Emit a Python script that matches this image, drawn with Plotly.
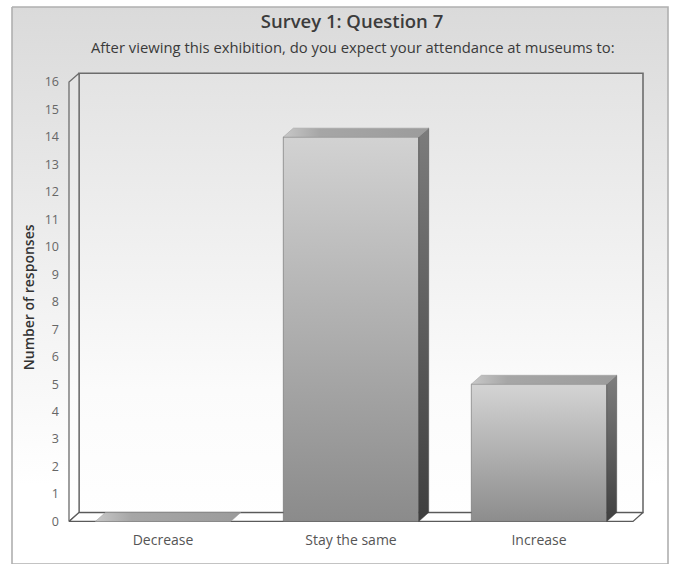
import plotly.graph_objects as go

# ---- data ----
categories = ["Decrease", "Stay the same", "Increase"]
responses = [0, 14, 5]
y_ticks = list(range(0, 17))
title_text = "Survey 1: Question 7"
subtitle_text = "After viewing this exhibition, do you expect your attendance at museums to:"
y_title = "Number of responses"

# ---- styling / geometry ----
W, H = 678, 570
PX_X, PX_Y = 188.0, 27.75      # pixels per category / per response unit
DX, DY = 10.0 / PX_X, 9.0 / PX_Y  # 3-D depth in data units
BW = 0.72                      # bar width (category units)
PADX, PADY = 2.0 / PX_X, 2.0 / PX_Y
YMAX = 16
FONT = "Open Sans"

x_lo, x_hi = -0.5, len(categories) - 0.5
xr = [x_lo - PADX, x_hi + DX + PADX]
yr = [0 - PADY, YMAX + DY + PADY]
plot_left = 69 - 2
plot_right = plot_left + (xr[1] - xr[0]) * PX_X
plot_bottom = 527 + 2
plot_top = plot_bottom - (yr[1] - yr[0]) * PX_Y

fig = go.Figure()

# background (full-page) gradient on helper axes x/y
fig.add_trace(go.Scatter(
    x=[12, 668, 668, 12, 12], y=[7, 7, 570, 570, 7], xaxis="x", yaxis="y",
    mode="lines", fill="toself", line=dict(color="#b0b0b0", width=1.6),
    fillgradient=dict(type="vertical", start=7, stop=570,
                      colorscale=[[0, "#dadada"], [0.55, "#f3f3f3"], [0.85, "#ffffff"], [1, "#ffffff"]]),
    hoverinfo="skip", showlegend=False))

def poly(xs, ys, line_color, line_width, fg=None, fillcolor=None):
    d = dict(x=xs + [xs[0]], y=ys + [ys[0]], xaxis="x2", yaxis="y2",
             mode="lines", fill="toself",
             line=dict(color=line_color, width=line_width),
             hoverinfo="skip", showlegend=False)
    if fg is not None:
        d["fillgradient"] = fg
    if fillcolor is not None:
        d["fillcolor"] = fillcolor
    fig.add_trace(go.Scatter(**d))

wall_grad = dict(type="vertical", start=0, stop=YMAX + DY,
                 colorscale=[[0, "#ffffff"], [0.3, "#fbfbfb"], [1, "#e3e3e3"]])

# back wall
poly([x_lo + DX, x_hi + DX, x_hi + DX, x_lo + DX],
     [DY, DY, YMAX + DY, YMAX + DY], "#6c6c6c", 1.6, fg=wall_grad)
# left wall
poly([x_lo, x_lo + DX, x_lo + DX, x_lo],
     [0, DY, YMAX + DY, YMAX], "#6c6c6c", 1.3, fg=wall_grad)
# floor
poly([x_lo, x_hi, x_hi + DX, x_lo + DX],
     [0, 0, DY, DY], "#5a5a5a", 1.3, fillcolor="#ffffff")

# bars (front faces)
fig.add_trace(go.Bar(x=list(range(len(categories))), y=responses, width=BW,
                     xaxis="x2", yaxis="y2", marker=dict(color="#aaaaaa", line=dict(width=0)),
                     showlegend=False, hovertemplate="%{y}<extra></extra>"))

for i, v in enumerate(responses):
    l, r = i - BW / 2, i + BW / 2
    if v > 0:
        # front face gradient
        poly([l, r, r, l], [0, 0, v, v], "#6a6a6a", 0.6,
             fg=dict(type="vertical", start=0, stop=v,
                     colorscale=[[0, "#8a8a8a"], [1, "#d2d2d2"]]))
        # side face
        poly([r, r + DX, r + DX, r], [0, DY, v + DY, v], "#444444", 0.5,
             fg=dict(type="vertical", start=0, stop=v + DY,
                     colorscale=[[0, "#3e3e3e"], [1, "#7c7c7c"]]))
    # top face
    poly([l, r, r + DX, l + DX], [v, v, v + DY, v + DY], "#9a9a9a", 0.5,
         fg=dict(type="horizontal", start=l, stop=r + DX,
                 colorscale=[[0, "#c8c8c8"], [0.25, "#a6a6a6"], [1, "#9c9c9c"]]))

fig.update_layout(
    width=W, height=H,
    margin=dict(l=0, r=0, t=0, b=0),
    paper_bgcolor="#ffffff", plot_bgcolor="rgba(0,0,0,0)",
    font=dict(family=FONT, color="#555555", size=12),
    title=dict(text=title_text, x=352 / W, xanchor="center",
               y=1 - 22 / H, yanchor="middle",
               font=dict(family=FONT, size=18.5, color="#3c3c3c", weight=600)),
    annotations=[dict(text=subtitle_text, xref="paper", yref="paper",
                      x=353 / W, y=1 - 47 / H, xanchor="center", yanchor="middle",
                      showarrow=False, font=dict(family=FONT, size=14.8, color="#3a3a3a"))],
    xaxis=dict(domain=[0, 1], range=[0, W], visible=False, fixedrange=True),
    yaxis=dict(domain=[0, 1], range=[H, 0], visible=False, fixedrange=True),
    xaxis2=dict(domain=[plot_left / W, plot_right / W], range=xr, anchor="y2",
                tickvals=list(range(len(categories))), ticktext=categories,
                showgrid=False, zeroline=False, showline=False, ticks="",
                ticklabelstandoff=7, tickfont=dict(size=14, color="#555555"),
                fixedrange=True),
    yaxis2=dict(domain=[(H - plot_bottom) / H, (H - plot_top) / H], range=yr, anchor="x2",
                tickvals=y_ticks, ticktext=[str(t) for t in y_ticks],
                showgrid=False, zeroline=False, showline=False, ticks="",
                ticklabelstandoff=7, tickfont=dict(size=12.5, color="#666666"),
                title=dict(text=y_title, standoff=6,
                           font=dict(size=14, color="#333333", weight=600)),
                fixedrange=True),
    bargap=0.28,
)

fig.write_html("out.html")
